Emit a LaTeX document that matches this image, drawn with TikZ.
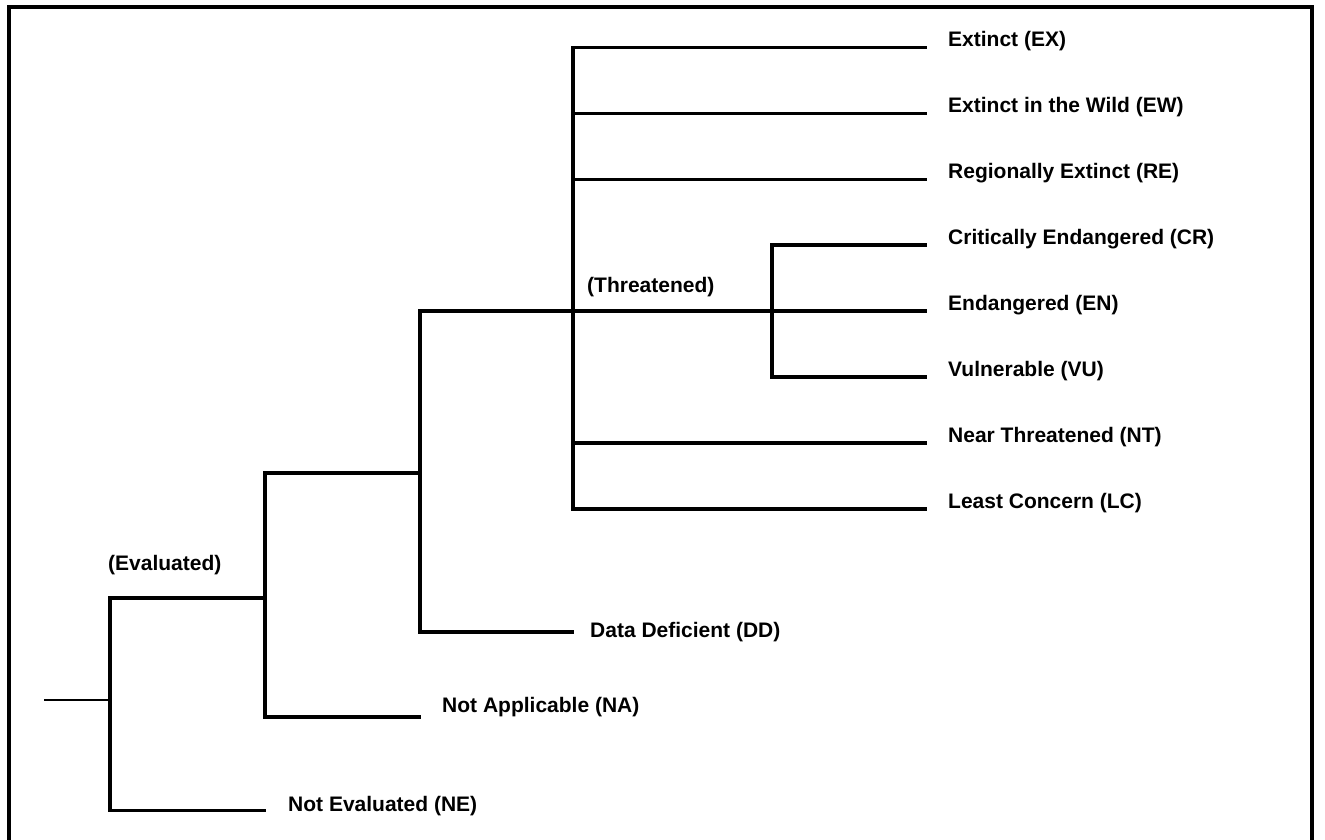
\documentclass[tikz,border=0pt]{standalone}
\usepackage{fontspec}
\setmainfont{Liberation Sans}
\begin{document}
\begin{tikzpicture}[x=1pt,y=-1pt,
  branch/.style={line width=3.2pt, line cap=rect},
  lbl/.style={anchor=base west, inner sep=0pt, font=\fontsize{21}{25}\selectfont\bfseries}]
\useasboundingbox (0,0) rectangle (1325,840);
\fill[white] (0,0) rectangle (1325,840);
% frame
\draw[line width=4pt] (8.5,840) -- (8.5,7) -- (1312,7) -- (1312,840);
% junction coordinates
\coordinate (root) at (44,700);
\coordinate (j0) at (110,700);
\coordinate (j0t) at (110,598);
\coordinate (j0b) at (110,810.5);
\coordinate (j1) at (265,598);
\coordinate (j1t) at (265,473);
\coordinate (j1b) at (265,717);
\coordinate (j2) at (420,473);
\coordinate (j2t) at (420,311);
\coordinate (j2b) at (420,632);
\coordinate (j3) at (573,311);
\coordinate (j3t) at (573,47.5);
\coordinate (j3b) at (573,509);
\coordinate (j3ew) at (573,113.5);
\coordinate (j3re) at (573,179.5);
\coordinate (j3nt) at (573,443);
\coordinate (j4) at (772,311);
\coordinate (j4t) at (772,245);
\coordinate (j4b) at (772,377);
% leaf ends
\coordinate (eNE) at (264,810.5);
\coordinate (eNA) at (419,717);
\coordinate (eDD) at (572,632);
\coordinate (eEX) at (925,47.5);
\coordinate (eEW) at (925,113.5);
\coordinate (eRE) at (925,179.5);
\coordinate (eCR) at (925,245);
\coordinate (eEN) at (925,311);
\coordinate (eVU) at (925,377);
\coordinate (eNT) at (925,443);
\coordinate (eLC) at (925,509);
% tree
\draw[line width=2.4pt] (root) -- (j0);
\draw[branch] (j1) -- (j0t) -- (j0b) -- (eNE);
\draw[branch] (j2) -- (j1t) -- (j1b) -- (eNA);
\draw[branch] (j3) -- (j2t) -- (j2b) -- (eDD);
\draw[branch] (eEX) -- (j3t) -- (j3b) -- (eLC);
\draw[branch] (j3ew) -- (eEW);
\draw[branch] (j3re) -- (eRE);
\draw[branch] (j3nt) -- (eNT);
\draw[branch] (j3) -- (eEN);
\draw[branch] (eCR) -- (j4t) -- (j4b) -- (eVU);
% labels
\node[lbl] (lEX) at (948,46.5) {Extinct (EX)};
\node[lbl] (lEW) at (948,112.5) {Extinct in the Wild (EW)};
\node[lbl] (lRE) at (948,178.5) {Regionally Extinct (RE)};
\node[lbl] (lCR) at (948,244) {Critically Endangered (CR)};
\node[lbl] (lEN) at (948,310) {Endangered (EN)};
\node[lbl] (lVU) at (948,376) {Vulnerable (VU)};
\node[lbl] (lNT) at (948,442) {Near Threatened (NT)};
\node[lbl] (lLC) at (948,508) {Least Concern (LC)};
\node[lbl] (lDD) at (590,637) {Data Deficient (DD)};
\node[lbl] (lNA) at (442,712) {Not Applicable (NA)};
\node[lbl] (lNE) at (288,811.5) {Not Evaluated (NE)};
\node[lbl] (lEval) at (108,570) {(Evaluated)};
\node[lbl] (lThr) at (587,292) {(Threatened)};
\end{tikzpicture}
\end{document}
